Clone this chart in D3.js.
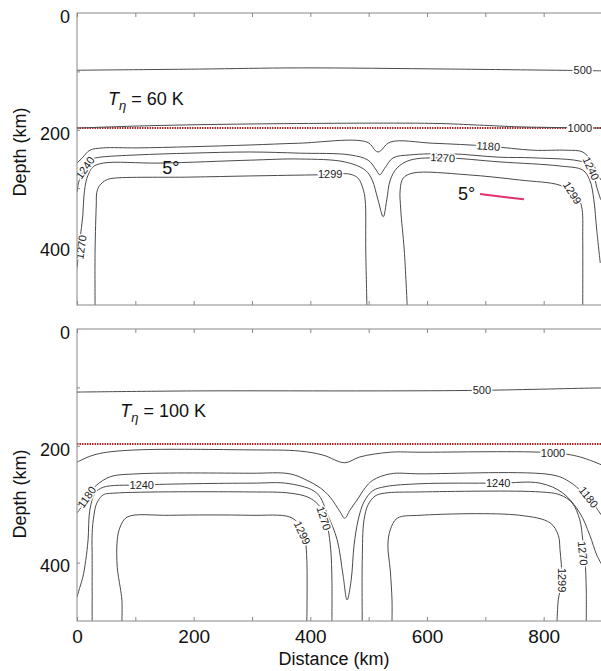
<!DOCTYPE html>
<html>
<head>
<meta charset="utf-8">
<script src="https://cdn.jsdelivr.net/npm/d3@7"></script>
<style>
  body { margin: 0; background: #fff; }
  text { font-family: "Liberation Sans", Arial, sans-serif; }
</style>
</head>
<body>
<script>
// tick labels
const distanceTicks = [0, 200, 400, 600, 800];
const depthTicks = [0, 200, 400];
const minorDistance = [0, 100, 200, 300, 400, 500, 600, 700, 800, 900];
const minorDepth = [100, 200, 300, 400];
const lidDepth = 197; // red dotted line, km

// contours: [distance km, depth km]
// T_eta = 60 K
const top500 = [[0,98],[210,96],[380,94],[640,96],[900,99]];
const top1000 = [[0,197],[125,193],[300,190],[610,189],[690,192],[760,195],[900,197]];
const top1180 = [[0,257],[10,247],[22,235],[45,231],[103,231],[194,229],[297,226],[380,223],[497,221],[516,238],[537,221],[610,223],[705,228],[782,235],[840,235],[867,238],[883,255],[891,272],[898,286]];
const top1240 = [[0,307],[3,289],[9,274],[15,260],[26,250],[39,247],[103,243],[194,240],[297,238],[382,240],[468,243],[499,252],[513,269],[519,277],[528,265],[542,248],[571,243],[639,241],[725,247],[782,248],[867,255],[879,264],[886,277],[891,298],[898,320]];
const top1270 = [[0,437],[5,389],[10,346],[12,312],[17,283],[27,264],[45,257],[142,257],[297,252],[382,250],[459,255],[494,269],[506,286],[516,320],[525,349],[531,320],[537,286],[549,265],[571,252],[627,248],[725,255],[828,262],[867,269],[879,286],[886,320],[891,372],[897,428]];
const top1299a = [[31,500],[31,406],[33,329],[34,307],[39,295],[50,286],[62,283],[194,281],[297,279],[417,277],[468,276],[482,283],[490,300],[494,320],[495,406],[497,500]];
const top1299b = [[566,500],[561,406],[555,337],[554,303],[559,283],[576,274],[669,277],[759,286],[828,295],[849,308],[861,320],[866,337],[867,389],[867,500]];
const topLabels = [["500",867,98,0],["1000",862,197,0],["1180",705,228,4],["1270",627,248,3],["1299",434,276,0],["1299",849,308,58],["1240",881,266,65],["1240",14,265,-55],["1270",7,401,-82]];

// T_eta = 100 K
const bot500 = [[0,108],[211,106],[514,106],[694,105],[891,101],[900,101]];
const bot1000 = [[0,228],[22,218],[45,212],[103,207],[297,207],[382,209],[422,216],[459,229],[485,219],[537,211],[588,211],[816,212],[862,219],[900,233]];
const bot1180 = [[0,315],[9,303],[17,293],[26,276],[34,267],[57,253],[103,248],[297,247],[365,248],[394,259],[417,272],[434,288],[451,313],[459,324],[468,310],[480,293],[494,272],[507,259],[537,248],[588,248],[816,250],[845,262],[866,279],[883,293],[891,307],[900,320]];
const bot1240 = [[0,459],[5,442],[10,425],[15,396],[19,361],[22,310],[31,281],[45,271],[111,267],[297,264],[365,265],[411,281],[430,319],[446,361],[456,421],[463,464],[470,430],[475,370],[482,327],[492,296],[507,277],[528,270],[588,265],[722,264],[794,264],[833,281],[862,315],[879,353],[891,387],[900,404]];
const bot1270a = [[26,500],[26,396],[26,349],[29,319],[34,298],[45,284],[65,281],[297,279],[365,281],[396,288],[413,300],[423,317],[430,341],[435,378],[437,430],[437,500]];
const bot1270b = [[489,500],[489,396],[492,327],[499,301],[511,286],[528,281],[588,279],[794,279],[828,284],[849,298],[862,327],[867,361],[871,396],[873,447],[873,500]];
const bot1299a = [[77,500],[77,464],[74,442],[69,408],[69,361],[74,339],[86,322],[159,319],[297,319],[365,322],[382,336],[391,361],[394,396],[394,500]];
const bot1299b = [[540,500],[540,464],[537,413],[533,370],[537,344],[549,324],[588,319],[759,319],[811,332],[825,353],[828,378],[831,430],[825,464],[823,500]];
const botLabels = [["500",694,105,0],["1000",816,212,0],["1180",17,288,-55],["1240",111,267,0],["1270",423,324,72],["1299",386,349,65],["1240",722,264,0],["1180",877,288,52],["1270",867,384,85],["1299",831,430,90]];

// 5 degree slope marks (top panel)
const slopeMark = [[691,310],[766,319]];
const slopeLabels = [[146,276],[653,320]];

const width = 601, height = 671;
const svg = d3.select("body").append("svg")
    .attr("width", width)
    .attr("height", height);

const x = d3.scaleLinear().domain([0, 900]).range([77, 602]);
const panelH = 292;

const panels = [
    { id: "top", top: 13, contours: [top500, top1000, top1180, top1240, top1270, top1299a, top1299b],
      labels: topLabels, teta: "60 K", tetaAt: [53, 157], titleY: 152, xLabels: false },
    { id: "bot", top: 329, contours: [bot500, bot1000, bot1180, bot1240, bot1270a, bot1270b, bot1299a, bot1299b],
      labels: botLabels, teta: "100 K", tetaAt: [74, 150], titleY: 494, xLabels: true }
];

panels.forEach(p => drawPanel(p));

function drawPanel(p) {
    const y = d3.scaleLinear().domain([0, 500]).range([p.top, p.top + panelH]);
    const g = svg.append("g");

    g.append("clipPath").attr("id", "clip-" + p.id)
      .append("rect")
        .attr("x", x(0)).attr("y", p.top)
        .attr("width", x(900) - x(0)).attr("height", panelH);

    const plot = g.append("g").attr("clip-path", `url(#clip-${p.id})`);

    const line = d3.line()
        .x(d => x(d[0]))
        .y(d => y(d[1]))
        .curve(d3.curveCatmullRom.alpha(0.5));

    // lid line (red, dotted)
    plot.append("line")
        .attr("x1", x(0)).attr("x2", x(900))
        .attr("y1", y(lidDepth)).attr("y2", y(lidDepth))
        .attr("stroke", "#b3262a")
        .attr("stroke-width", 2)
        .attr("stroke-dasharray", "1.5,1");

    plot.selectAll("path.contour")
      .data(p.contours)
      .join("path")
        .attr("class", "contour")
        .attr("d", line)
        .attr("fill", "none")
        .attr("stroke", "#4a4a4a")
        .attr("stroke-width", 1);

    // contour labels, white halo cuts the line
    plot.selectAll("text.clabel")
      .data(p.labels)
      .join("text")
        .attr("class", "clabel")
        .attr("transform", d => `translate(${x(d[1])},${y(d[2])}) rotate(${d[3]})`)
        .attr("text-anchor", "middle")
        .attr("dy", "0.35em")
        .attr("font-size", 11)
        .attr("fill", "#222")
        .attr("stroke", "#fff")
        .attr("stroke-width", 3)
        .attr("paint-order", "stroke")
        .text(d => d[0]);

    if (p.id === "top") {
        plot.append("path")
            .attr("d", d3.line().x(d => x(d[0])).y(d => y(d[1]))(slopeMark))
            .attr("stroke", "#e0306a")
            .attr("stroke-width", 2)
            .attr("fill", "none");
        plot.selectAll("text.slope")
          .data(slopeLabels)
          .join("text")
            .attr("class", "slope")
            .attr("x", d => x(d[0]))
            .attr("y", d => y(d[1]))
            .attr("font-size", 18)
            .attr("fill", "#111")
            .text("5°");
    }

    // T_eta label
    const t = g.append("text")
        .attr("x", x(p.tetaAt[0]))
        .attr("y", y(p.tetaAt[1]))
        .attr("font-size", 18)
        .attr("fill", "#111");
    t.append("tspan").attr("font-style", "italic").text("T");
    t.append("tspan").attr("font-style", "italic").attr("font-size", 13).attr("dy", 5).text("η");
    t.append("tspan").attr("dy", -5).text(" = " + p.teta);

    // frame
    g.append("rect")
        .attr("x", x(0)).attr("y", p.top)
        .attr("width", x(900) - x(0)).attr("height", panelH)
        .attr("fill", "none")
        .attr("stroke", "#888")
        .attr("stroke-width", 1);

    // inward ticks
    const tickStyle = sel => {
        sel.select(".domain").remove();
        sel.selectAll(".tick line").attr("stroke", "#888");
    };
    g.append("g").attr("transform", `translate(0,${p.top})`)
        .call(d3.axisBottom(x).tickValues(minorDistance).tickSize(4).tickFormat(""))
        .call(tickStyle);
    g.append("g").attr("transform", `translate(0,${p.top + panelH})`)
        .call(d3.axisTop(x).tickValues(minorDistance).tickSize(4).tickFormat(""))
        .call(tickStyle);
    g.append("g").attr("transform", `translate(${x(0)},0)`)
        .call(d3.axisRight(y).tickValues(minorDepth).tickSize(3).tickFormat(""))
        .call(tickStyle);

    // depth labels
    const yl = g.append("g").attr("transform", `translate(${x(0)},0)`)
        .call(d3.axisLeft(y).tickValues(depthTicks).tickSize(0).tickPadding(7).tickFormat(d3.format("d")));
    yl.select(".domain").remove();
    yl.selectAll("text")
        .attr("font-size", 18)
        .attr("font-family", "Liberation Sans, Arial, sans-serif")
        .attr("fill", "#111")
        .attr("dy", "0.52em");

    g.append("text")
        .attr("transform", `translate(26,${p.titleY}) rotate(-90)`)
        .attr("text-anchor", "middle")
        .attr("font-size", 18)
        .attr("fill", "#111")
        .text("Depth (km)");

    if (p.xLabels) {
        const xl = g.append("g").attr("transform", `translate(0,${p.top + panelH})`)
            .call(d3.axisBottom(x).tickValues(distanceTicks).tickSize(0).tickPadding(9).tickFormat(d3.format("d")));
        xl.select(".domain").remove();
        xl.selectAll("text")
            .attr("font-size", 19)
            .attr("font-family", "Liberation Sans, Arial, sans-serif")
            .attr("fill", "#111");
        g.append("text")
            .attr("x", 334)
            .attr("y", 665)
            .attr("text-anchor", "middle")
            .attr("font-size", 18)
            .attr("fill", "#111")
            .text("Distance (km)");
    }
}
</script>
</body>
</html>
